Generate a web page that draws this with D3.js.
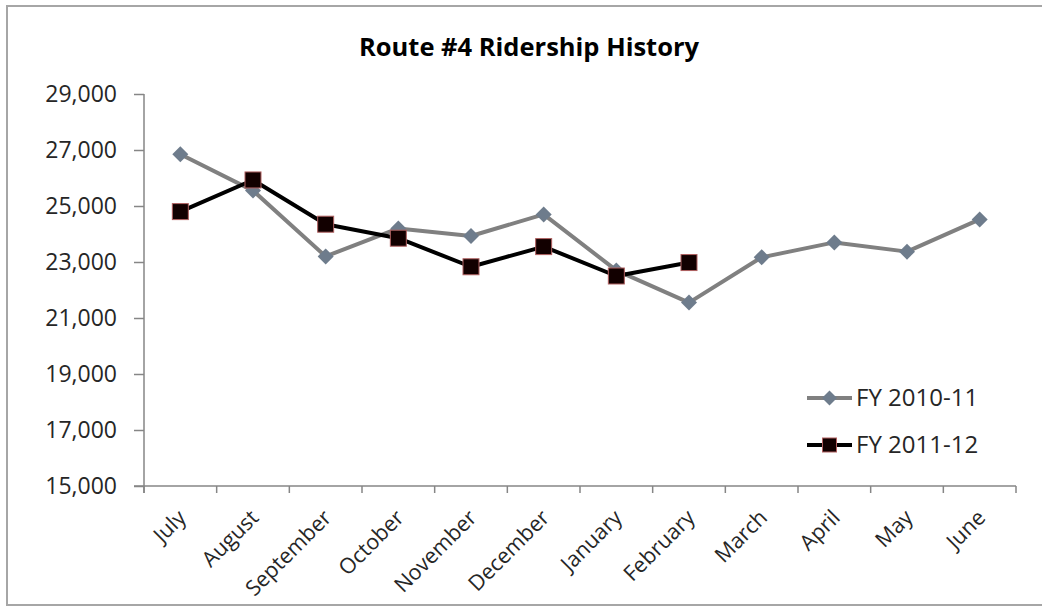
<!DOCTYPE html>
<html>
<head>
<meta charset="utf-8">
<script src="https://cdn.jsdelivr.net/npm/d3@7"></script>
<style>
  html, body { margin: 0; padding: 0; background: #ffffff; }
  svg { display: block; }
  text { font-family: "Open Sans", "Noto Sans", sans-serif; fill: #262626; }
</style>
</head>
<body>
<svg id="chart" width="1042" height="607"></svg>
<script>
// Months of the fiscal year (July through June)
const months = ["July", "August", "September", "October", "November", "December",
                "January", "February", "March", "April", "May", "June"];

// Monthly ridership, FY 2010-11 (full year)
const fy2010 = [26850, 25550, 23200, 24200, 23930, 24700, 22700, 21550, 23170, 23700, 23370, 24520];

// Monthly ridership, FY 2011-12 (July through February)
const fy2011 = [24800, 25930, 24350, 23850, 22830, 23550, 22500, 22980];

const yTicks = [15000, 17000, 19000, 21000, 23000, 25000, 27000, 29000];
const seriesNames = ["FY 2010-11", "FY 2011-12"];

const svg = d3.select("#chart");

// Outer chart frame
svg.append("rect")
  .attr("x", 7).attr("y", 6)
  .attr("width", 1050).attr("height", 599)
  .attr("fill", "#ffffff")
  .attr("stroke", "#a6a6a6")
  .attr("stroke-width", 2);

// Title
svg.append("text")
  .attr("x", 529).attr("y", 56)
  .attr("text-anchor", "middle")
  .style("font-size", "25.5px")
  .style("font-weight", "bold")
  .style("fill", "#000000")
  .text("Route #4 Ridership History");

const plotLeft = 144, plotRight = 1016, plotTop = 94, plotBottom = 486;

const x = d3.scaleBand().domain(months).range([plotLeft, plotRight]).padding(0);
const y = d3.scaleLinear().domain([15000, 29000]).range([plotBottom, plotTop]);
const cx = m => x(m) + x.bandwidth() / 2;

const axisColor = "#868686";

// Y axis
const yAxis = svg.append("g")
  .attr("transform", `translate(${plotLeft},0)`)
  .call(d3.axisLeft(y).tickValues(yTicks).tickFormat(d3.format(",")).tickSize(10).tickPadding(17));
yAxis.select(".domain").attr("stroke", axisColor).attr("stroke-width", 1.5)
  .attr("d", `M0,${plotTop}V${plotBottom + 7}`);
yAxis.selectAll(".tick line").attr("stroke", axisColor).attr("stroke-width", 1.5);
yAxis.selectAll(".tick text")
  .style("font-size", "23px")
  .style("font-family", "'Open Sans', sans-serif")
  .attr("fill", "#262626");

// X axis: labels centred on categories, tick marks between categories
const xAxis = svg.append("g")
  .attr("transform", `translate(0,${plotBottom})`)
  .call(d3.axisBottom(x).tickSize(0).tickPadding(0));
xAxis.select(".domain").remove();
xAxis.selectAll(".tick text")
  .style("font-size", "21.5px")
  .style("font-family", "'Open Sans', sans-serif")
  .attr("fill", "#262626")
  .attr("text-anchor", "end")
  .attr("dy", "0")
  .attr("transform", "translate(7,33) rotate(-45)");

svg.append("line")
  .attr("x1", plotLeft - 10).attr("x2", plotRight)
  .attr("y1", plotBottom).attr("y2", plotBottom)
  .attr("stroke", axisColor).attr("stroke-width", 1.5);

const boundaries = months.map(m => x(m)).concat([x(months[months.length - 1]) + x.bandwidth()]);
svg.append("g").selectAll("line")
  .data(boundaries)
  .join("line")
  .attr("x1", d => d).attr("x2", d => d)
  .attr("y1", plotBottom).attr("y2", plotBottom + 7)
  .attr("stroke", axisColor).attr("stroke-width", 1.5);

// Series lines and markers
const line = d3.line()
  .x((d, i) => cx(months[i]))
  .y(d => y(d));

const grayLine = "#808080", diamondFill = "#6e7c8c";
const blackLine = "#000000", squareFill = "#120000", squareStroke = "#b06060";

function diamond(sel, px, py, r) {
  sel.append("path")
    .attr("d", `M${px},${py - r}L${px + r},${py}L${px},${py + r}L${px - r},${py}Z`)
    .attr("fill", diamondFill);
}
function square(sel, px, py, s) {
  sel.append("rect")
    .attr("x", px - s / 2).attr("y", py - s / 2)
    .attr("width", s).attr("height", s)
    .attr("fill", squareFill)
    .attr("stroke", squareStroke).attr("stroke-width", 1);
}

const g1 = svg.append("g");
g1.append("path").datum(fy2010)
  .attr("d", line).attr("fill", "none")
  .attr("stroke", grayLine).attr("stroke-width", 4).attr("stroke-linejoin", "round");
fy2010.forEach((v, i) => diamond(g1, cx(months[i]), y(v), 8));

const g2 = svg.append("g");
g2.append("path").datum(fy2011)
  .attr("d", line).attr("fill", "none")
  .attr("stroke", blackLine).attr("stroke-width", 4).attr("stroke-linejoin", "round");
fy2011.forEach((v, i) => square(g2, cx(months[i]), y(v), 16));

// Legend
const legend = svg.append("g");
const legendRows = [398, 445];
seriesNames.forEach((name, i) => {
  const ly = legendRows[i];
  legend.append("line")
    .attr("x1", 807).attr("x2", 852).attr("y1", ly).attr("y2", ly)
    .attr("stroke", i === 0 ? grayLine : blackLine).attr("stroke-width", 4);
  if (i === 0) diamond(legend, 829.5, ly, 7.5);
  else square(legend, 829.5, ly, 14);
  legend.append("text")
    .attr("x", 856).attr("y", ly)
    .attr("dy", "0.35em")
    .style("font-size", "24px")
    .text(name);
});
</script>
</body>
</html>
